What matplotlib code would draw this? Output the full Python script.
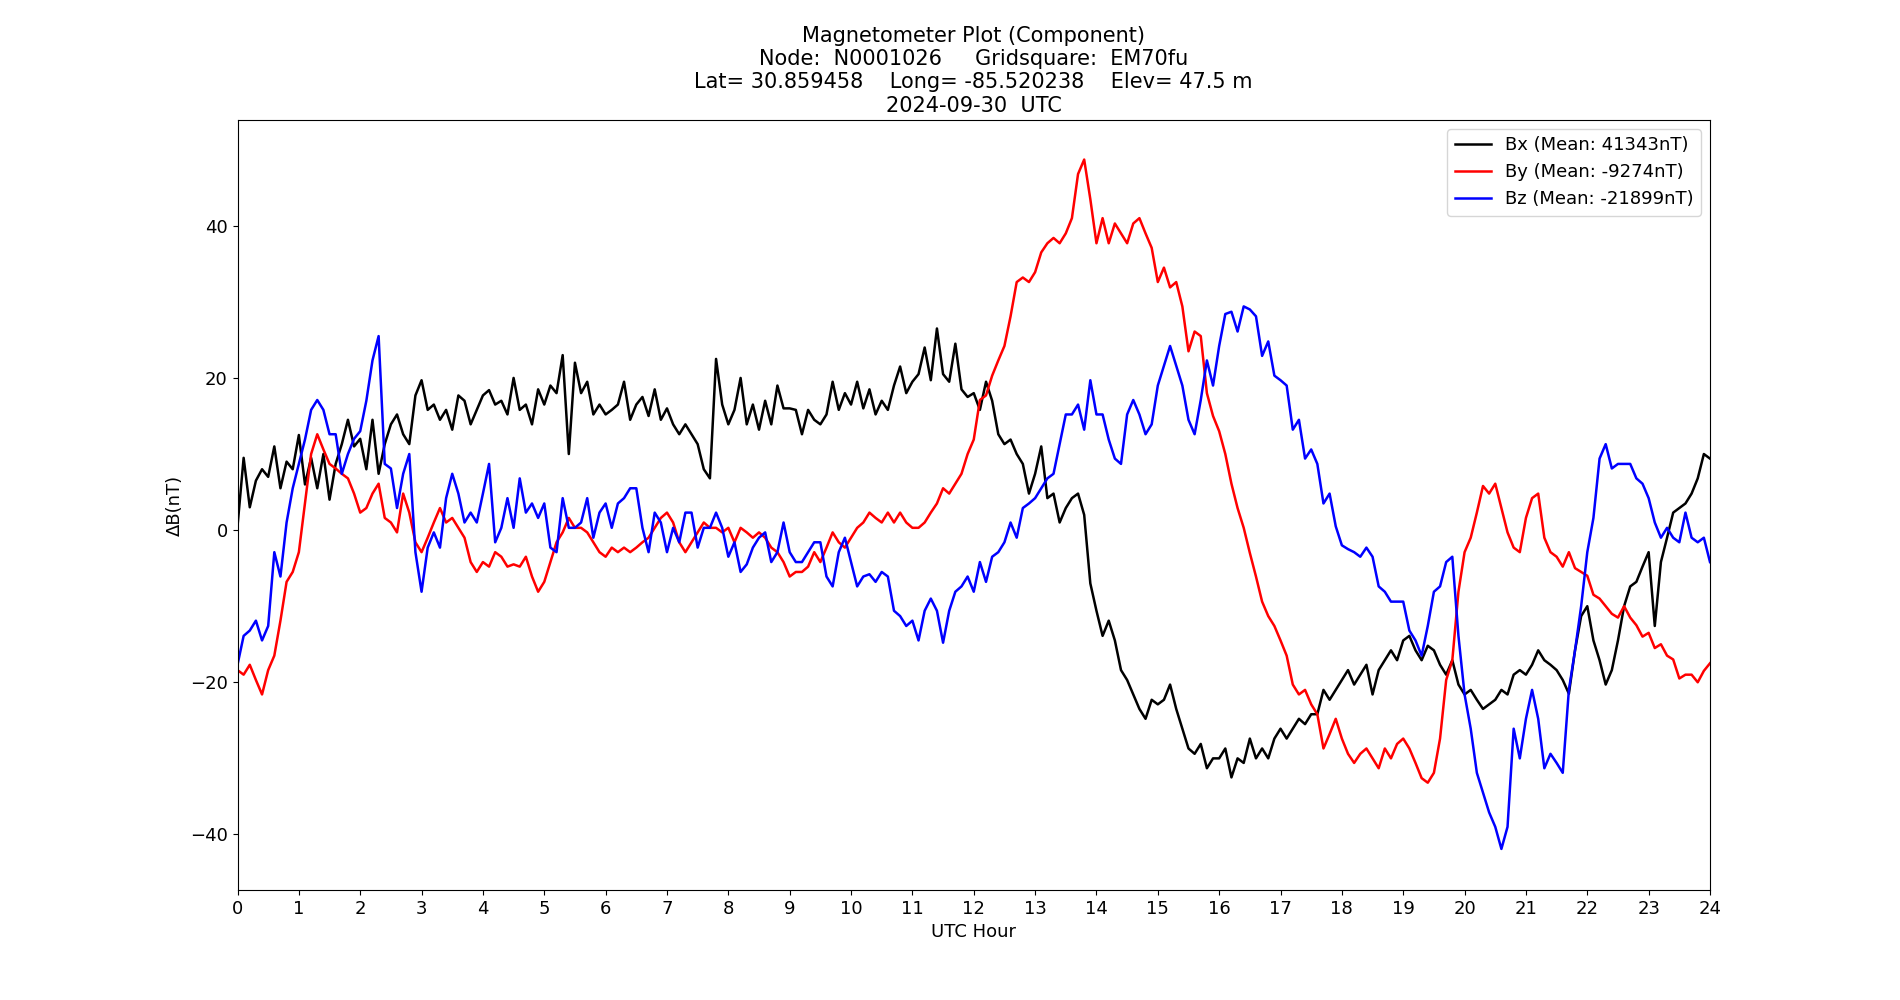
import numpy as np
import matplotlib
matplotlib.use('Agg')
import matplotlib.pyplot as plt

# sampling times (hours), one every 0.1 h
hours = np.round(np.arange(241) * 0.1, 1)

bx = [
    0.5, 9.5, 3.0, 6.5, 8.0, 7.0, 11.0, 5.5, 9.0, 8.0,
    12.5, 6.0, 9.5, 5.5, 10.0, 4.0, 8.7, 11.3, 14.5, 11.0,
    12.0, 8.0, 14.5, 7.4, 11.3, 13.9, 15.2, 12.6, 11.3, 17.7,
    19.7, 15.8, 16.5, 14.5, 15.8, 13.2, 17.7, 17.0, 13.9, 15.8,
    17.7, 18.4, 16.5, 17.0, 15.2, 20.0, 15.8, 16.5, 13.9, 18.5,
    16.5, 19.0, 18.0, 23.0, 10.0, 22.0, 18.0, 19.5, 15.2, 16.5,
    15.2, 15.8, 16.5, 19.5, 14.5, 16.5, 17.5, 15.0, 18.5, 14.5,
    16.0, 13.9, 12.6, 13.9, 12.6, 11.3, 8.0, 6.8, 22.5, 16.5,
    13.9, 15.8, 20.0, 13.9, 16.5, 13.2, 17.0, 13.9, 19.0, 16.0,
    16.0, 15.8, 12.6, 15.8, 14.5, 13.9, 15.2, 19.5, 15.8, 18.0,
    16.5, 19.5, 16.0, 18.5, 15.2, 17.0, 15.8, 19.0, 21.5, 18.0,
    19.5, 20.5, 24.0, 19.7, 26.5, 20.5, 19.5, 24.5, 18.5, 17.5,
    18.0, 15.8, 19.5, 17.0, 12.6, 11.3, 11.9, 10.0, 8.7, 4.8,
    7.4, 11.0, 4.2, 4.8, 1.0, 2.9, 4.2, 4.8, 2.0, -7.0,
    -10.6, -13.9, -11.9, -14.5, -18.4, -19.7, -21.6, -23.5, -24.8, -22.3,
    -22.9, -22.3, -20.3, -23.5, -26.1, -28.7, -29.4, -28.1, -31.3, -30.0,
    -30.0, -28.7, -32.5, -30.0, -30.6, -27.4, -30.0, -28.7, -30.0, -27.4,
    -26.1, -27.4, -26.1, -24.8, -25.5, -24.2, -24.2, -21.0, -22.3, -21.0,
    -19.7, -18.4, -20.3, -19.0, -17.7, -21.6, -18.4, -17.1, -15.8, -17.1,
    -14.5, -13.9, -15.8, -17.1, -15.2, -15.8, -17.7, -19.0, -17.1, -20.3,
    -21.6, -21.0, -22.3, -23.5, -22.9, -22.3, -21.0, -21.6, -19.0, -18.4,
    -19.0, -17.7, -15.8, -17.1, -17.7, -18.4, -19.7, -21.5, -15.8, -11.3,
    -10.0, -14.5, -17.1, -20.3, -18.4, -14.5, -10.0, -7.4, -6.8, -4.8,
    -2.9, -12.6, -4.2, -1.0, 2.3, 2.9, 3.5, 4.8, 6.8, 10.0,
    9.4,
]

by = [
    -18.4, -19.0, -17.7, -19.7, -21.6, -18.4, -16.5, -11.9, -6.8, -5.5,
    -2.9, 3.5, 10.0, 12.6, 10.6, 8.7, 8.1, 7.4, 6.8, 4.8,
    2.3, 2.9, 4.8, 6.1, 1.6, 1.0, -0.3, 4.8, 2.3, -1.6,
    -2.9, -1.0, 1.0, 2.9, 1.0, 1.6, 0.3, -1.0, -4.2, -5.5,
    -4.2, -4.8, -2.9, -3.5, -4.8, -4.5, -4.8, -3.5, -6.1, -8.1,
    -6.8, -4.2, -1.6, -0.3, 1.6, 0.3, 0.3, -0.3, -1.6, -2.9,
    -3.5, -2.3, -2.9, -2.3, -2.9, -2.3, -1.6, -1.0, 0.3, 1.6,
    2.3, 1.0, -1.6, -2.9, -1.6, -0.3, 1.0, 0.3, 0.3, -0.3,
    0.3, -1.6, 0.3, -0.3, -1.0, -0.3, -1.0, -2.3, -2.9, -4.2,
    -6.1, -5.5, -5.5, -4.8, -2.9, -4.2, -2.3, -0.3, -1.6, -2.3,
    -1.0, 0.3, 1.0, 2.3, 1.6, 1.0, 2.3, 1.0, 2.3, 1.0,
    0.3, 0.3, 1.0, 2.3, 3.5, 5.5, 4.8, 6.1, 7.4, 10.0,
    11.9, 17.1, 17.7, 20.3, 22.3, 24.2, 28.1, 32.6, 33.2, 32.6,
    33.9, 36.5, 37.7, 38.4, 37.7, 39.0, 41.0, 46.8, 48.7, 43.5,
    37.7, 41.0, 37.7, 40.3, 39.0, 37.7, 40.3, 41.0, 39.0, 37.1,
    32.6, 34.5, 31.9, 32.6, 29.4, 23.5, 26.1, 25.5, 18.0, 15.0,
    13.0, 10.0, 6.1, 2.9, 0.3, -3.0, -6.1, -9.4, -11.3, -12.6,
    -14.5, -16.5, -20.3, -21.6, -21.0, -22.9, -24.2, -28.7, -26.8, -24.8,
    -27.4, -29.4, -30.6, -29.4, -28.7, -30.0, -31.3, -28.7, -30.0, -28.1,
    -27.4, -28.7, -30.6, -32.6, -33.2, -31.9, -27.4, -19.7, -17.1, -8.1,
    -2.9, -1.0, 2.3, 5.8, 4.8, 6.1, 2.9, -0.3, -2.3, -2.9,
    1.6, 4.2, 4.8, -1.0, -2.9, -3.5, -4.8, -2.9, -5.0, -5.5,
    -6.0, -8.5, -9.0, -10.0, -11.0, -11.5, -10.0, -11.5, -12.5, -14.0,
    -13.5, -15.5, -15.0, -16.5, -17.0, -19.5, -19.0, -19.0, -20.0, -18.5,
    -17.5,
]

bz = [
    -17.7, -13.9, -13.2, -11.9, -14.5, -12.6, -2.9, -6.1, 1.0, 5.5,
    8.7, 11.9, 15.8, 17.1, 15.8, 12.6, 12.6, 7.4, 10.0, 12.0,
    13.0, 17.0, 22.3, 25.5, 8.7, 8.1, 2.9, 7.4, 10.0, -2.9,
    -8.1, -2.3, -0.3, -2.3, 4.2, 7.4, 4.8, 1.0, 2.3, 1.0,
    4.8, 8.7, -1.6, 0.3, 4.2, 0.3, 6.8, 2.3, 3.5, 1.6,
    3.5, -2.3, -2.9, 4.2, 0.3, 0.3, 1.0, 4.2, -1.0, 2.3,
    3.5, 0.3, 3.5, 4.2, 5.5, 5.5, 0.3, -2.9, 2.3, 1.0,
    -2.9, 0.3, -1.6, 2.3, 2.3, -2.3, 0.3, 0.3, 2.3, 0.3,
    -3.5, -1.6, -5.5, -4.5, -2.3, -1.0, -0.3, -4.2, -2.9, 1.0,
    -2.9, -4.2, -4.2, -2.9, -1.6, -1.6, -6.1, -7.4, -2.9, -1.0,
    -4.2, -7.4, -6.1, -5.8, -6.8, -5.5, -6.1, -10.6, -11.3, -12.6,
    -11.9, -14.5, -10.6, -9.0, -10.6, -14.8, -10.6, -8.1, -7.4, -6.1,
    -8.1, -4.2, -6.8, -3.5, -2.9, -1.6, 1.0, -1.0, 2.9, 3.5,
    4.2, 5.5, 6.8, 7.4, 11.3, 15.2, 15.2, 16.5, 13.2, 19.7,
    15.2, 15.2, 11.9, 9.4, 8.7, 15.2, 17.1, 15.2, 12.6, 13.9,
    19.0, 21.6, 24.2, 21.6, 19.0, 14.5, 12.6, 17.1, 22.3, 19.0,
    24.2, 28.4, 28.7, 26.1, 29.4, 29.0, 28.1, 22.9, 24.8, 20.3,
    19.7, 19.0, 13.2, 14.5, 9.4, 10.6, 8.7, 3.5, 4.8, 0.5,
    -2.0, -2.5, -2.9, -3.5, -2.3, -3.5, -7.4, -8.1, -9.4, -9.4,
    -9.4, -13.2, -14.5, -16.5, -12.6, -8.1, -7.4, -4.2, -3.5, -13.9,
    -21.6, -26.1, -31.9, -34.5, -37.1, -39.0, -41.9, -39.0, -26.1, -30.0,
    -24.8, -21.0, -24.8, -31.3, -29.4, -30.6, -31.9, -21.0, -15.8, -10.0,
    -2.9, 1.6, 9.4, 11.3, 8.1, 8.7, 8.7, 8.7, 6.8, 6.1,
    4.2, 1.0, -1.0, 0.3, -1.0, -1.6, 2.3, -1.0, -1.6, -1.0,
    -4.2,
]

means = {'Bx': 41343, 'By': -9274, 'Bz': -21899}
hour_ticks = list(range(0, 25))

title = ('Magnetometer Plot (Component)\n'
         'Node:  N0001026     Gridsquare:  EM70fu\n'
         'Lat= 30.859458    Long= -85.520238    Elev= 47.5 m\n'
         '2024-09-30  UTC')

plt.rcParams['font.size'] = 13

fig, ax = plt.subplots(figsize=(19, 10))
ax.plot(hours, bx, color='black', lw=1.8, label='Bx (Mean: %dnT)' % means['Bx'])
ax.plot(hours, by, color='red', lw=1.8, label='By (Mean: %dnT)' % means['By'])
ax.plot(hours, bz, color='blue', lw=1.8, label='Bz (Mean: %dnT)' % means['Bz'])

ax.set_xlim(0, 24)
ax.set_ylim(-47.3, 53.9)
ax.set_xticks(hour_ticks)
ax.set_xlabel('UTC Hour')
ax.set_ylabel('ΔB(nT)')
ax.set_title(title, fontsize=15)
ax.legend(loc='upper right')

fig.savefig('out.png', dpi=100)
